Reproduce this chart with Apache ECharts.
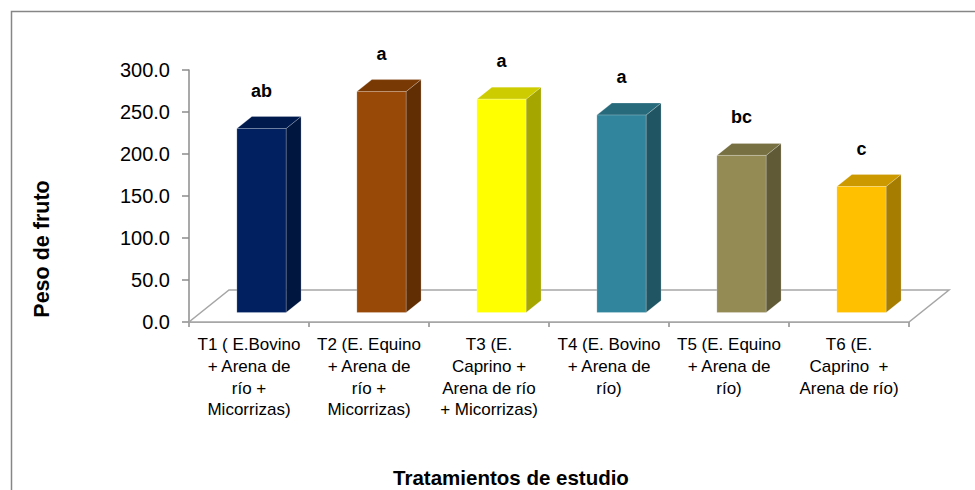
<!DOCTYPE html>
<html>
<head>
<meta charset="utf-8">
<script src="https://cdn.jsdelivr.net/npm/echarts@6/dist/echarts.min.js"></script>
<style>
html,body{margin:0;padding:0;background:#fff;}
#chart{width:975px;height:490px;}
</style>
</head>
<body>
<div id="chart"></div>
<script>
const categories = [
  'T1 ( E.Bovino\n+ Arena de\nrío +\nMicorrizas)',
  'T2 (E. Equino\n+ Arena de\nrío +\nMicorrizas)',
  'T3 (E.\nCaprino +\nArena de río\n+ Micorrizas)',
  'T4 (E. Bovino\n+ Arena de\nrío)',
  'T5 (E. Equino\n+ Arena de\nrío)',
  'T6 (E.\nCaprino  +\nArena de río)'
];
const values = [219, 263, 254, 235, 187, 150];
const letters = ['ab', 'a', 'a', 'a', 'bc', 'c'];
const frontColors = ['#002060', '#984807', '#FFFF00', '#31859C', '#948A54', '#FFC000'];
const sideColors  = ['#00163F', '#612E04', '#A6A600', '#205663', '#605A36', '#A67D00'];
const topColors   = ['#001A4E', '#793905', '#CCCC00', '#276A7C', '#767043', '#CC9A00'];
const yTicks = [0, 50, 100, 150, 200, 250, 300];

const FONT = '"Liberation Sans", Arial, sans-serif';
const chart = echarts.init(document.getElementById('chart'), null, {renderer: 'svg'});

function floorItem(params, api) {
  const cs = params.coordSys;
  const band = api.size([1, 0])[0];
  const dx = band / 3, dy = 32;
  const x0 = cs.x, x1 = cs.x + cs.width, y0 = cs.y + cs.height;
  return {
    type: 'polygon',
    shape: {points: [[x0, y0], [x1, y0], [x1 + dx, y0 - dy], [x0 + dx, y0 - dy]]},
    style: {fill: '#ffffff', stroke: '#A6A6A6', lineWidth: 1.5},
    silent: true
  };
}

function barItem(params, api) {
  const i = api.value(0);
  const v = api.value(1);
  const band = api.size([1, 0])[0];
  const w = band * 0.41;
  const ox = band * 0.104, oy = -9.5;      // position of bar front face in depth
  const sx = band * 0.125, sy = -12;       // bar depth
  const base = api.coord([i, 0]);
  const top = api.coord([i, v]);
  const xl = base[0] + ox - w / 2, xr = base[0] + ox + w / 2;
  const yb = base[1] + oy, yt = top[1] + oy;
  const edge = 'rgba(255,255,255,0.25)';
  return {
    type: 'group',
    children: [
      {type: 'polygon', shape: {points: [[xr, yt], [xr + sx, yt + sy], [xr + sx, yb + sy], [xr, yb]]},
        style: {fill: sideColors[i], stroke: edge, lineWidth: 0.8}},
      {type: 'polygon', shape: {points: [[xl, yt], [xl + sx, yt + sy], [xr + sx, yt + sy], [xr, yt]]},
        style: {fill: topColors[i], stroke: edge, lineWidth: 0.8}},
      {type: 'rect', shape: {x: xl, y: yt, width: w, height: yb - yt},
        style: {fill: frontColors[i], stroke: edge, lineWidth: 0.8}},
      {type: 'text', x: (xl + xr) / 2, y: yt - 38,
        style: {text: letters[i], font: 'bold 18px ' + FONT, fill: '#000',
          align: 'center', verticalAlign: 'middle'}}
    ]
  };
}

chart.setOption({
  animation: false,
  backgroundColor: '#ffffff',
  grid: {left: 189, top: 70, width: 720, height: 252, outerBoundsMode: 'none', containLabel: false},
  xAxis: {
    type: 'category',
    data: categories,
    axisLine: {show: true, lineStyle: {color: '#8C8C8C', width: 1.5}},
    axisTick: {show: true, length: 5, lineStyle: {color: '#8C8C8C', width: 1.5}},
    axisLabel: {interval: 0, margin: 12, color: '#000', fontFamily: FONT, fontSize: 17,
      lineHeight: 21.7, align: 'center'},
    splitLine: {show: false}
  },
  yAxis: {
    type: 'value',
    min: yTicks[0], max: yTicks[yTicks.length - 1], interval: yTicks[1] - yTicks[0],
    axisLine: {show: true, lineStyle: {color: '#8C8C8C', width: 1.5}},
    axisTick: {show: true, length: 7, lineStyle: {color: '#8C8C8C', width: 1.5}},
    axisLabel: {margin: 19, color: '#000', fontFamily: FONT, fontSize: 20,
      formatter: v => v.toFixed(1)},
    splitLine: {show: false}
  },
  graphic: [
    {type: 'rect', left: 9, top: 9, z: -10, silent: true,
      shape: {x: 0, y: 0, width: 1100, height: 600},
      style: {fill: 'none', stroke: '#868686', lineWidth: 1.5}},
    {type: 'text', x: 42, y: 249, rotation: Math.PI / 2, silent: true,
      style: {text: 'Peso de fruto', font: 'bold 21.5px ' + FONT, fill: '#000',
        align: 'center', verticalAlign: 'middle'}},
    {type: 'text', x: 511, y: 477, silent: true,
      style: {text: 'Tratamientos de estudio', font: 'bold 20.5px ' + FONT, fill: '#000',
        align: 'center', verticalAlign: 'middle'}}
  ],
  series: [
    {type: 'custom', name: 'floor', renderItem: floorItem, data: [[0, 0]], silent: true, z: 1},
    {type: 'custom', name: 'Peso de fruto', renderItem: barItem,
      data: values.map((v, i) => [i, v]), z: 2}
  ]
});
</script>
</body>
</html>
